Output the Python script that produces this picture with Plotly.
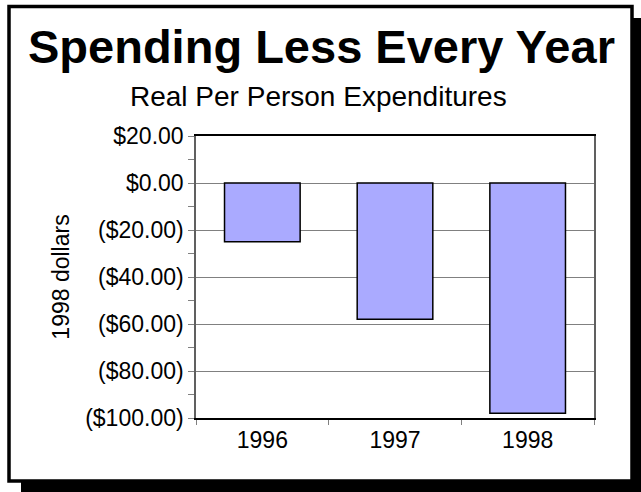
import plotly.graph_objects as go

# ---- data ----
years = ["1996", "1997", "1998"]
spending = [-25, -58, -98]
y_tickvals = [20, 0, -20, -40, -60, -80, -100]
y_ticktext = ["$20.00", "$0.00", "($20.00)", "($40.00)", "($60.00)", "($80.00)", "($100.00)"]

title_text = "Spending Less Every Year"
subtitle_text = "Real Per Person Expenditures"
y_title = "1998 dollars"

# ---- layout geometry (pixels) ----
W, H = 641, 492
PL, PR, PT, PB = 196, 594, 136, 418  # plot area edges
pw, ph = PR - PL, PB - PT

def px_x(p):
    return (p - PL) / pw

def px_y(p):
    return (PB - p) / ph

FONT = "Liberation Sans, Arial, sans-serif"
GREY = "#808080"

fig = go.Figure()
fig.add_trace(go.Bar(
    x=years, y=spending, width=0.57,
    marker=dict(color="#AAAAFF", line=dict(color="black", width=1.5)),
    showlegend=False, hoverinfo="x+y",
))

n = len(years)
boundaries = [i - 0.5 for i in range(n + 1)]

fig.update_layout(
    width=W, height=H,
    margin=dict(l=PL, r=W - PR, t=PT, b=H - PB, autoexpand=False),
    paper_bgcolor="white", plot_bgcolor="white",
    font=dict(family=FONT, color="black", size=23),
    bargap=0.43,
    xaxis=dict(
        type="category", tickson="boundaries", ticks="outside", ticklen=5,
        tickcolor=GREY, tickwidth=1, showgrid=False,
        showline=True, linecolor="black", linewidth=2, mirror=True,
        tickfont=dict(size=23), automargin=False, range=[-0.5, n - 0.5],
    ),
    xaxis2=dict(
        overlaying="x", anchor="y", side="bottom", type="linear",
        range=[-0.5, n - 0.5], tickmode="array", tickvals=boundaries,
        ticks="inside", ticklen=5, tickcolor=GREY, tickwidth=1,
        showticklabels=False, showgrid=False, showline=False, zeroline=False,
    ),
    yaxis=dict(
        range=[-100, 20], tickmode="array", tickvals=y_tickvals, ticktext=y_ticktext,
        ticks="outside", ticklen=6, tickcolor=GREY, tickwidth=1,
        minor=dict(tickmode="linear", tick0=0, dtick=10, ticks="outside",
                   ticklen=6, tickcolor=GREY, tickwidth=1, showgrid=False),
        showgrid=True, gridcolor=GREY, gridwidth=1, zeroline=False,
        showline=True, linecolor="#606060", linewidth=1.5, mirror=True,
        tickfont=dict(size=23), automargin=False,
        title=dict(text=y_title, font=dict(size=23), standoff=9),
    ),
    yaxis2=dict(
        overlaying="y", anchor="x", side="left", range=[-100, 20],
        tickmode="array", tickvals=y_tickvals,
        ticks="inside", ticklen=7, tickcolor=GREY, tickwidth=1,
        minor=dict(tickmode="linear", tick0=0, dtick=10, ticks="inside",
                   ticklen=7, tickcolor=GREY, tickwidth=1),
        showticklabels=False, showgrid=False, showline=False, zeroline=False,
    ),
    shapes=[
        dict(type="rect", xref="paper", yref="paper", layer="below",
             x0=px_x(21), x1=px_x(660), y0=px_y(510), y1=px_y(18),
             fillcolor="black", line=dict(width=0)),
        dict(type="rect", xref="paper", yref="paper", layer="below",
             x0=px_x(9), x1=px_x(632), y0=px_y(481), y1=px_y(6.5),
             fillcolor="white", line=dict(color="black", width=3.5)),
    ],
    annotations=[
        dict(text=f"<b>{title_text}</b>", xref="paper", yref="paper",
             x=px_x(321), y=px_y(46), xanchor="center", yanchor="middle",
             showarrow=False, font=dict(size=47, family=FONT, color="black")),
        dict(text=subtitle_text, xref="paper", yref="paper",
             x=px_x(318), y=px_y(96), xanchor="center", yanchor="middle",
             showarrow=False, font=dict(size=28, family=FONT, color="black")),
    ],
)

fig.write_html("out.html", config={"displayModeBar": False},
               post_script="document.body.style.margin='0';")
